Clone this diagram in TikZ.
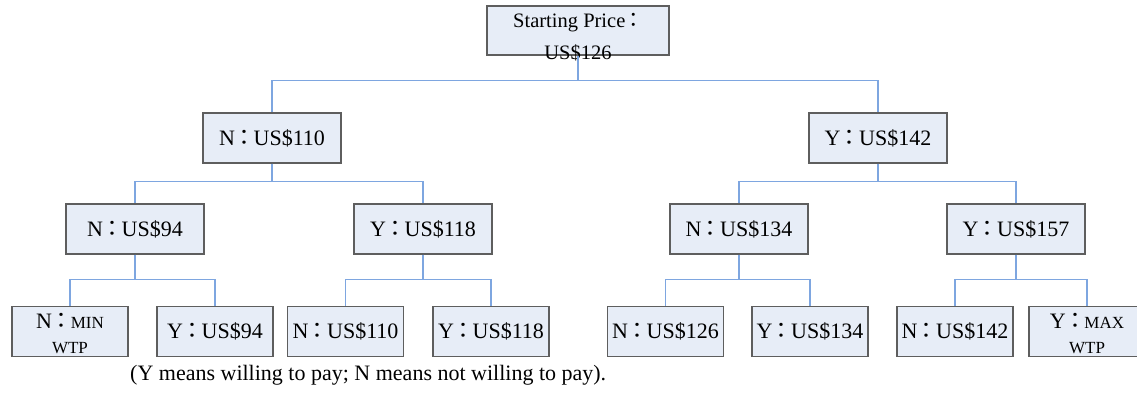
\documentclass[tikz,border=0pt]{standalone}
\usepackage{fontspec}
\setmainfont{Liberation Serif}
\newfontfamily\cjk{Noto Sans CJK TC}
\newcommand{\fc}{\makebox[0.85em][c]{\cjk ：}}
\definecolor{boxfill}{HTML}{E7EDF7}
\definecolor{boxborder}{HTML}{5E5E5E}
\definecolor{linkcol}{HTML}{7EA6E0}
\tikzset{
  treebox/.style={draw=boxborder, fill=boxfill, line width=1.2pt, minimum width=138pt, minimum height=50pt, inner sep=0pt, font=\fontsize{22}{26}\selectfont},
  leafbox/.style={treebox, minimum width=116pt},
  txt/.style={inner sep=0pt, align=center},
  conn/.style={draw=linkcol, line width=1.2pt},
}
\begin{document}
\begin{tikzpicture}[x=1pt,y=-1pt]
\useasboundingbox (0,0) rectangle (1137,393);
% root
\node[treebox, minimum width=182pt, minimum height=49pt] (root) at (578,30.5) {};
\node[txt, anchor=base, font=\fontsize{20.5}{32}\selectfont] (roottext) at (578,60) {Starting Price\fc\\US\$126};
% level 1
\node[treebox] (n1) at (272,138) {N\fc US\$110};
\node[treebox] (y1) at (878,138) {Y\fc US\$142};
% level 2
\node[treebox] (nn) at (135,229) {N\fc US\$94};
\node[treebox] (ny) at (423,229) {Y\fc US\$118};
\node[treebox] (yn) at (739,229) {N\fc US\$134};
\node[treebox] (yy) at (1016,229) {Y\fc US\$157};
% level 3
\node[leafbox] (nnn) at (70,331.5) {};
\node[txt, anchor=base, font=\fontsize{17}{25}\selectfont] (nnntext) at (70,353) {{\fontsize{22}{25}\selectfont N\fc}MIN\\WTP};
\node[leafbox] (nny) at (215,331.5) {Y\fc US\$94};
\node[leafbox] (nyn) at (345.5,331.5) {N\fc US\$110};
\node[leafbox] (nyy) at (491,331.5) {Y\fc US\$118};
\node[leafbox] (ynn) at (665.5,331.5) {N\fc US\$126};
\node[leafbox] (yny) at (810,331.5) {Y\fc US\$134};
\node[leafbox] (yyn) at (955,331.5) {N\fc US\$142};
\node[leafbox] (yyy) at (1087,331.5) {};
\node[txt, anchor=base, font=\fontsize{17}{25}\selectfont] (yyytext) at (1087,353) {{\fontsize{22}{25}\selectfont Y\fc}MAX\\WTP};
% caption
\node[anchor=base west, inner sep=0pt, font=\fontsize{22}{26}\selectfont] (caption) at (130,380) {(Y means willing to pay; N means not willing to pay).};
% connectors
\draw[conn] (root.south) -- ++(0,25) -| (n1.north);
\draw[conn] (root.south) -- ++(0,25) -| (y1.north);
\draw[conn] (n1.south) -- ++(0,18) -| (nn.north);
\draw[conn] (n1.south) -- ++(0,18) -| (ny.north);
\draw[conn] (y1.south) -- ++(0,18) -| (yn.north);
\draw[conn] (y1.south) -- ++(0,18) -| (yy.north);
\draw[conn] (nn.south) -- ++(0,25) -| (nnn.north);
\draw[conn] (nn.south) -- ++(0,25) -| (nny.north);
\draw[conn] (ny.south) -- ++(0,25) -| (nyn.north);
\draw[conn] (ny.south) -- ++(0,25) -| (nyy.north);
\draw[conn] (yn.south) -- ++(0,25) -| (ynn.north);
\draw[conn] (yn.south) -- ++(0,25) -| (yny.north);
\draw[conn] (yy.south) -- ++(0,25) -| (yyn.north);
\draw[conn] (yy.south) -- ++(0,25) -| (yyy.north);
\end{tikzpicture}
\end{document}
